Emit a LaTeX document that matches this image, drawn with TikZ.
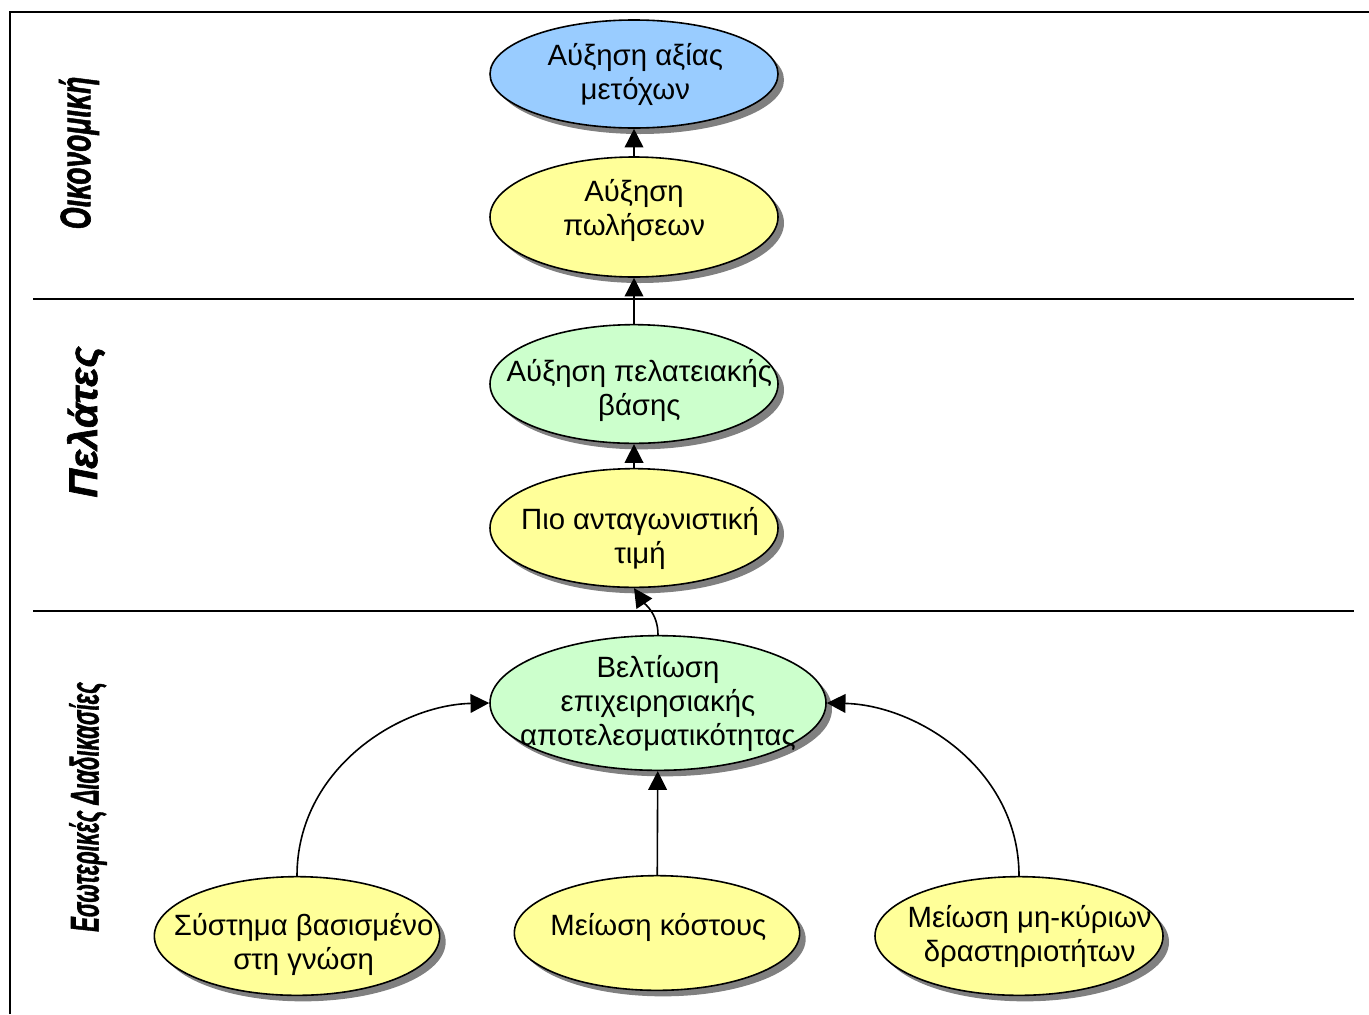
\documentclass[tikz,border=0pt]{standalone}
\usepackage{fontspec}
\setmainfont{Liberation Sans}
\newfontfamily\lanefont{Liberation Sans Bold Italic}[FakeBold=1.6]
\usetikzlibrary{shapes.geometric,shadows,arrows.meta}

\definecolor{skyblue}{RGB}{153,204,255}
\definecolor{paleyellow}{RGB}{255,255,153}
\definecolor{palegreen}{RGB}{204,255,204}

\tikzset{every picture/.style={line width=1.2pt}}
\tikzset{
  bubble/.style={ellipse, draw, inner sep=0pt,
    drop shadow={shadow xshift=4.5pt, shadow yshift=-4.5pt, fill=black!50, opacity=1}},
  bubbletext/.style={align=center, inner sep=0pt, font=\fontsize{22}{25.5}\selectfont},
  lane/.style={rotate=90, inner sep=0pt, font=\lanefont},
  flow/.style={-{Triangle[length=14pt,width=14pt]}}
}

\begin{document}
\begin{tikzpicture}[x=0.75pt,y=0.75pt,yscale=-1,xscale=1]
\useasboundingbox (0,0) rectangle (1369,1014);

%Frame and lane dividers
\draw (10,1014) -- (10,12) -- (1369,12) ;
\draw (33,299) -- (1354,299) ;
\draw (33,611) -- (1354,611) ;

%Lane titles
\node[lane] (finance) at (79,153) {\fontsize{32}{34}\selectfont\scalebox{0.66}[1]{Οικονομική}};
\node[lane] (customers) at (86,422) {\fontsize{30}{32}\selectfont\scalebox{1.0}[1]{Πελάτες}};
\node[lane] (internal) at (88,807) {\fontsize{30}{32}\selectfont\scalebox{0.55}[1]{Εσωτερικές Διαδικασίες}};

%Shape: Ellipse
\node[bubble, fill=skyblue, minimum width=216pt, minimum height=81pt] (value) at (634,74)
  [label={[bubbletext,xshift=1pt]center:Αύξηση αξίας\\μετόχων}] {};
%Shape: Ellipse
\node[bubble, fill=paleyellow, minimum width=216pt, minimum height=90pt] (sales) at (634,217)
  [label={[bubbletext,yshift=5pt]center:Αύξηση\\πωλήσεων}] {};
%Shape: Ellipse
\node[bubble, fill=palegreen, minimum width=216pt, minimum height=89pt] (base) at (634,384)
  [label={[bubbletext,xshift=4pt,yshift=-4.5pt]center:Αύξηση πελατειακής\\βάσης}] {};
%Shape: Ellipse
\node[bubble, fill=paleyellow, minimum width=216pt, minimum height=89pt] (price) at (634,528)
  [label={[bubbletext,xshift=4.5pt,yshift=-8pt]center:Πιο ανταγωνιστική\\τιμή}] {};
%Shape: Ellipse
\node[bubble, fill=palegreen, minimum width=252pt, minimum height=101pt] (effic) at (658,703)
  [label={[bubbletext]center:Βελτίωση\\επιχειρησιακής\\αποτελεσματικότητας}] {};
%Shape: Ellipse
\node[bubble, fill=paleyellow, minimum width=214pt, minimum height=89pt] (know) at (297,936)
  [label={[bubbletext,xshift=5pt,yshift=-6pt]center:Σύστημα βασισμένο\\στη γνώση}] {};
%Shape: Ellipse
\node[bubble, fill=paleyellow, minimum width=214pt, minimum height=86pt] (cost) at (657,933)
  [label={[bubbletext,xshift=1pt,yshift=4pt]center:Μείωση κόστους}] {};
%Shape: Ellipse
\node[bubble, fill=paleyellow, minimum width=216pt, minimum height=89pt] (noncore) at (1019,936)
  [label={[bubbletext,xshift=8pt]center:Μείωση μη-κύριων\\δραστηριοτήτων}] {};

%Straight Lines
\draw[flow] (sales) -- (value) ;
\draw[flow] (price) -- (base) ;
\draw[flow] (base) -- (sales) ;
\draw[flow] (cost) -- (effic) ;
%Curve Lines
\draw[flow] (effic.north) .. controls +(0,-22) and +(10,15) .. (price.south) ;
\draw[flow] (know.north) .. controls +(0,-107) and +(-90,2) .. (effic.west) ;
\draw[flow] (noncore.north) .. controls +(0,-107) and +(90,2) .. (effic.east) ;

\end{tikzpicture}
\end{document}
